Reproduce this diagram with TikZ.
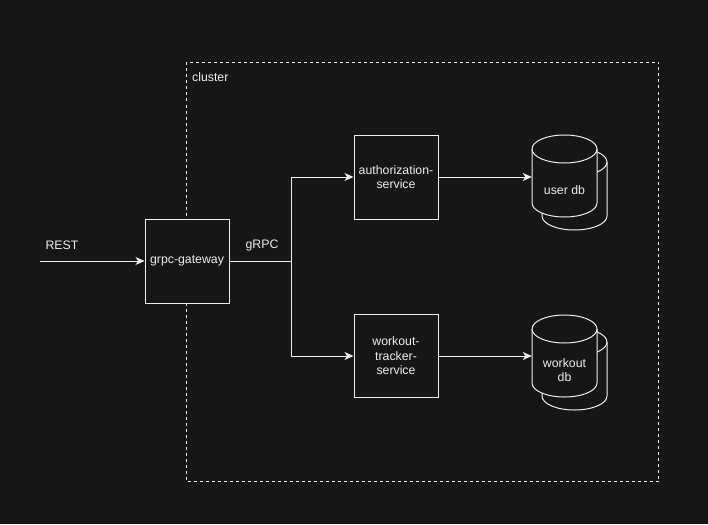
\documentclass[tikz,border=0pt]{standalone}
\usepackage{fontspec}
\setmainfont{Liberation Sans}
\usetikzlibrary{arrows.meta,calc}
\definecolor{bg}{HTML}{161616}
\definecolor{fg}{HTML}{EEEEEE}
\tikzset{
  box/.style={draw=fg, fill=bg, line width=1pt, minimum width=84pt, minimum height=84pt, inner sep=0pt, align=center, text=fg, font=\fontsize{12.3}{14.5}\selectfont},
  txt/.style={text=fg, font=\fontsize{12.3}{14.5}\selectfont, inner sep=0pt, align=center},
  conn/.style={draw=fg, line width=1pt},
  arr/.style={conn, -{Stealth[length=9pt,width=8pt,inset=2.5pt]}},
  clusterbox/.style={draw=fg, line width=1pt, dash pattern=on 3pt off 3pt},
  dbanchor/.style={draw=none, minimum width=65pt, minimum height=82pt, inner sep=0pt},
  cyl/.style={draw=fg, fill=bg, line width=1pt}
}
\newcommand\mydbcyl[2]{%
  \path[cyl] (#1-32.5,#2-27) -- (#1-32.5,#2+27)
    arc[start angle=180, end angle=0, x radius=32.5, y radius=14]
    -- (#1+32.5,#2-27)
    arc[start angle=0, end angle=-180, x radius=32.5, y radius=14] -- cycle;
  \draw[fg, line width=1pt] (#1-32.5,#2-27)
    arc[start angle=180, end angle=0, x radius=32.5, y radius=14];
}
\begin{document}
\begin{tikzpicture}[x=1pt,y=-1pt]
\fill[bg] (0,0) rectangle (708,524);
\useasboundingbox (0,0) rectangle (708,524);

% cluster
\draw[clusterbox] (186.5,62.5) rectangle (658.5,481.5);
\node[txt, anchor=west] (cl) at (192,77) {cluster};

% gateway and services
\node[box] (gw) at (187,261) {grpc-gateway};
\node[box] (auth) at (396,177) {authorization-\\service};
\node[box, minimum height=83pt] (wt) at (396,356) {workout-\\tracker-\\service};

% databases
\mydbcyl{574.5}{189}
\mydbcyl{564.5}{176}
\node[dbanchor] (udb) at (564.5,176) {};
\node[txt] (udbl) at (564.5,190.5) {user db};

\mydbcyl{574.5}{369}
\mydbcyl{564.5}{356}
\node[dbanchor] (wdb) at (564.5,356) {};
\node[txt] (wdbl) at (564.5,370) {workout\\db};

% REST input
\coordinate (rest) at (40,261);
\node[txt] (restl) at (62,245) {REST};
\draw[arr] (rest) -- (gw.west);

% gRPC branch
\coordinate (br) at (291.5,261);
\node[txt] (grpcl) at (262,245) {gRPC};
\draw[conn] (gw.east) -- (br);
\draw[arr] (br) |- (auth.west);
\draw[arr] (br) |- (wt.west);

% to databases
\draw[arr] (auth.east) -- (auth.east -| udb.west);
\draw[arr] (wt.east) -- (wt.east -| wdb.west);
\end{tikzpicture}
\end{document}
